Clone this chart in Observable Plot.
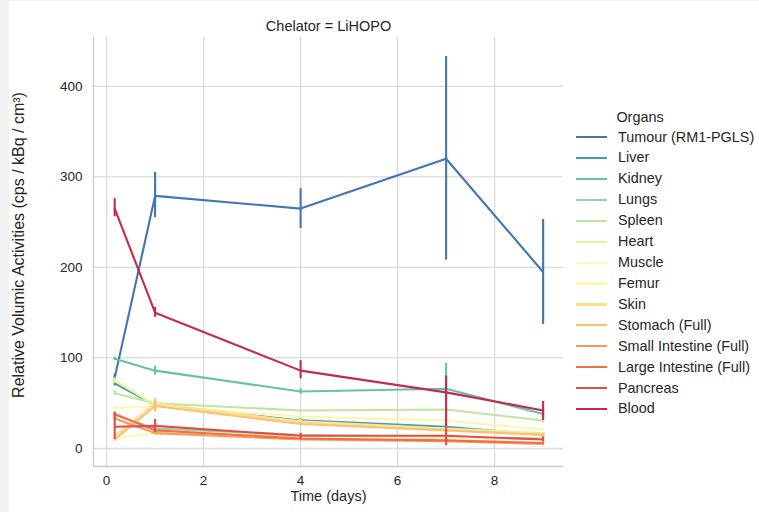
<!DOCTYPE html>
<html><head><meta charset="utf-8">
<script src="https://cdn.jsdelivr.net/npm/d3@7"></script>
<script src="https://cdn.jsdelivr.net/npm/@observablehq/plot@0.6"></script>
<style>
body{margin:0;background:#fff;}
#wrap{position:relative;width:759px;height:512px;font-family:"Liberation Sans",Arial,sans-serif;color:#262626;overflow:hidden;}
.strip{position:absolute;background:#f2f2f2;}
.leg{position:absolute;font-size:14.4px;white-space:nowrap;line-height:18px;}
.sw{position:absolute;height:2.2px;width:31px;}
</style></head><body><div id="wrap"></div>
<script>
const titleText = "Chelator = LiHOPO";
const xLabel = "Time (days)";
const yLabel = "Relative Volumic Activities (cps / kBq / cm³)";
const legendTitle = "Organs";
const times = [0.1667, 1, 4, 7, 9];
const xTicks = [0, 2, 4, 6, 8];
const yTicks = [0, 100, 200, 300, 400];
const organs = ["Tumour (RM1-PGLS)", "Liver", "Kidney", "Lungs", "Spleen", "Heart", "Muscle", "Femur", "Skin",
  "Stomach (Full)", "Small Intestine (Full)", "Large Intestine (Full)", "Pancreas", "Blood"];
const colors = ["#4175b4", "#439bb5", "#66c2a5", "#94d4a4", "#bfe5a0", "#e6f598", "#f7fcb2", "#fff5ae", "#fee08b",
  "#fdbf6f", "#fa9857", "#f46d43", "#df4e4b", "#c32a4b"];
// mean per organ at each time
const means = [
  [78, 279, 265, 320, 195],
  [72, 48, 31, 24, 15],
  [99, 86, 63, 66, 38],
  [37, 22, 15, 12, 11],
  [61, 50, 42, 43, 31],
  [75, 48, 30, 22, 17],
  [11, 17, 14, 12, 10],
  [45, 47, 35, 31, 21],
  [14, 50, 29, 21, 16],
  [10, 47, 27, 20, 15],
  [33, 17, 10, 8, 5],
  [38, 20, 11, 9, 6],
  [24, 25, 14, 14, 10],
  [265, 150, 86, 62, 42]
];
const lows = [
  [74, 255, 243, 208, 137],
  [69, 45, 29, 22, 13],
  [97, 81, 60, 52, 35],
  [35, 20, 14, 11, 10],
  [58, 48, 41, 41, 29],
  [72, 45, 28, 20, 16],
  [10, 16, 13, 11, 9],
  [43, 42, 33, 29, 20],
  [12, 44, 27, 19, 15],
  [8, 40, 25, 18, 14],
  [31, 15, 9, 7, 4],
  [36, 18, 10, 8, 5],
  [10, 18, 10, 3, 7],
  [256, 145, 77, 25, 31]
];
const highs = [
  [82, 305, 287, 433, 253],
  [75, 51, 33, 26, 17],
  [101, 91, 66, 94, 41],
  [39, 24, 16, 13, 12],
  [64, 52, 43, 45, 33],
  [78, 51, 32, 24, 18],
  [12, 18, 15, 13, 11],
  [47, 52, 37, 33, 22],
  [16, 56, 31, 23, 17],
  [12, 54, 29, 22, 16],
  [35, 19, 11, 9, 6],
  [40, 22, 12, 10, 7],
  [40, 32, 17, 25, 13],
  [276, 156, 97, 80, 52]
];

const rows = [];
organs.forEach((o, i) => times.forEach((t, j) => rows.push({organ: o, time: t, mean: means[i][j], lo: lows[i][j], hi: highs[i][j]})));

const xDomain = [-0.27, 9.42];
const yDomain = [-19.9, 454];
const gridStyle = {stroke: "#dadada", strokeOpacity: 1, strokeWidth: 1.3};

const chart = Plot.plot({
  width: 759, height: 512,
  marginLeft: 93, marginRight: 196, marginTop: 37, marginBottom: 46,
  style: {fontFamily: "Liberation Sans, Arial, sans-serif", color: "#262626", background: "transparent"},
  x: {domain: xDomain},
  y: {domain: yDomain},
  color: {domain: organs, range: colors},
  marks: [
    Plot.gridX(xTicks, gridStyle),
    Plot.gridY(yTicks, gridStyle),
    Plot.ruleX([xDomain[0]], {stroke: "#cccccc", strokeWidth: 1.3}),
    Plot.ruleY([yDomain[0]], {stroke: "#cccccc", strokeWidth: 1.3}),
    Plot.axisX({ticks: xTicks, tickSize: 0, tickPadding: 9, fontSize: 13.5, label: null, tickFormat: d => String(d)}),
    Plot.axisY({ticks: yTicks, tickSize: 0, tickPadding: 11, fontSize: 13.5, label: null, tickFormat: d => String(d)}),
    ...organs.flatMap(o => {
      const d = rows.filter(r => r.organ === o);
      return [
        Plot.line(d, {x: "time", y: "mean", stroke: "organ", strokeWidth: 2.1}),
        Plot.ruleX(d, {x: "time", y1: "lo", y2: "hi", stroke: "organ", strokeWidth: 2.1})
      ];
    }),
    Plot.text([titleText], {frameAnchor: "top", dy: -17, fontSize: 14.5, fill: "#262626"}),
    Plot.text([xLabel], {frameAnchor: "bottom", dy: 34, fontSize: 14.5, fill: "#262626"}),
    Plot.text([yLabel], {frameAnchor: "left", textAnchor: "middle", dx: -75, dy: -7, rotate: -90, fontSize: 16, fill: "#262626"})
  ]
});

const wrap = document.getElementById("wrap");
const s1 = document.createElement("div"); s1.className = "strip"; s1.style.cssText = "left:0;top:0;width:9px;height:512px;"; wrap.appendChild(s1);
const s2 = document.createElement("div"); s2.className = "strip"; s2.style.cssText = "left:0;top:0;width:759px;height:1px;"; wrap.appendChild(s2);
chart.style.position = "absolute"; chart.style.left = "0"; chart.style.top = "0";
wrap.appendChild(chart);

const lt = document.createElement("div");
lt.className = "leg"; lt.textContent = legendTitle;
lt.style.left = "640px"; lt.style.top = "108px"; lt.style.transform = "translateX(-50%)";
wrap.appendChild(lt);
organs.forEach((o, i) => {
  const yc = 137 + i * 20.92;
  const sw = document.createElement("div"); sw.className = "sw";
  sw.style.left = "576px"; sw.style.top = (yc - 1) + "px"; sw.style.background = colors[i];
  wrap.appendChild(sw);
  const t = document.createElement("div"); t.className = "leg"; t.textContent = o;
  t.style.left = "618px"; t.style.top = (yc - 9.5) + "px";
  wrap.appendChild(t);
});
</script></body></html>
